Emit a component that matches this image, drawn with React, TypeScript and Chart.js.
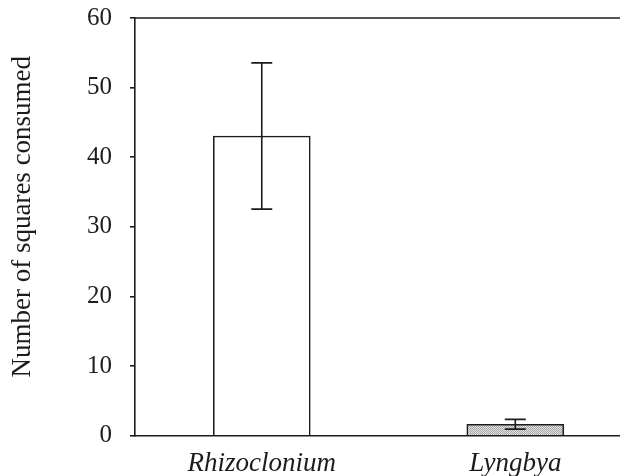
import React, { useEffect, useRef } from "react";
import { Chart, registerables } from "chart.js";

Chart.register(...registerables);

const categories = ["Rhizoclonium", "Lyngbya"];
const means = [43.05, 1.65];
const errors = [10.5, 0.7];
const yTicks = [0, 10, 20, 30, 40, 50, 60];
const yTitle = "Number of squares consumed";

const FONT = '"Liberation Serif", "Times New Roman", Times, serif';
const INK = "#1c1c1c";

function makeStipple(): CanvasPattern | string {
  const c = document.createElement("canvas");
  c.width = 2;
  c.height = 2;
  const g = c.getContext("2d");
  if (!g) return "#c4c4c4";
  g.fillStyle = "#e2e2e2";
  g.fillRect(0, 0, 2, 2);
  g.fillStyle = "#a6a6a6";
  g.fillRect(0, 0, 1, 1);
  g.fillRect(1, 1, 1, 1);
  const p = g.createPattern(c, "repeat");
  return p || "#c4c4c4";
}

const errorBarPlugin = {
  id: "errorBars",
  afterDatasetsDraw(chart: any) {
    const { ctx, scales } = chart;
    const xs = scales.x;
    const ys = scales.y;
    ctx.save();
    ctx.strokeStyle = INK;
    ctx.lineWidth = 1.6;
    means.forEach((m, i) => {
      const x = xs.getPixelForValue(i + 1);
      const yHi = ys.getPixelForValue(m + errors[i]);
      const yLo = ys.getPixelForValue(m - errors[i]);
      const half = 10.5;
      ctx.beginPath();
      ctx.moveTo(x, yLo);
      ctx.lineTo(x, yHi);
      ctx.moveTo(x - half, yHi);
      ctx.lineTo(x + half, yHi);
      ctx.moveTo(x - half, yLo);
      ctx.lineTo(x + half, yLo);
      ctx.stroke();
    });
    ctx.restore();
  },
};

const topLinePlugin = {
  id: "topLine",
  afterDraw(chart: any) {
    const { ctx, chartArea } = chart;
    ctx.save();
    ctx.strokeStyle = INK;
    ctx.lineWidth = 1.6;
    ctx.beginPath();
    ctx.moveTo(chartArea.left, chartArea.top);
    ctx.lineTo(chartArea.right, chartArea.top);
    ctx.stroke();
    ctx.restore();
  },
};

export default function App() {
  const ref = useRef<HTMLCanvasElement>(null);

  useEffect(() => {
    document.body.style.margin = "0";
    const canvas = ref.current;
    if (!canvas) return;
    const stipple = makeStipple();
    const chart = new Chart(canvas, {
      type: "bar",
      data: {
        datasets: [
          {
            data: means.map((m, i) => ({ x: i + 1, y: m })),
            backgroundColor: ["#ffffff", stipple as any],
            borderColor: INK,
            borderWidth: 1.6,
            borderSkipped: "bottom",
            barThickness: 97,
          },
        ],
      },
      options: {
        animation: false,
        responsive: false,
        maintainAspectRatio: false,
        layout: { padding: { top: 18, right: 0, left: 0, bottom: 0 } },
        plugins: {
          legend: { display: false },
          tooltip: { enabled: false },
        },
        scales: {
          x: {
            type: "linear",
            offset: false,
            bounds: "ticks",
            min: 0.5,
            max: 2.413,
            grid: { display: false },
            border: { display: true, color: INK, width: 1.6 },
            afterBuildTicks: (scale: any) => {
              scale.ticks = categories.map((_, i) => ({ value: i + 1 }));
            },
            afterFit: (scale: any) => {
              scale.height = 40.3;
              scale.paddingLeft = 0;
              scale.paddingRight = 0;
            },
            ticks: {
              autoSkip: false,
              maxRotation: 0,
              padding: 4,
              color: INK,
              font: { family: FONT, size: 27, style: "italic" },
              callback: (v: any) => categories[Number(v) - 1] ?? "",
            },
          },
          y: {
            min: 0,
            max: 60,
            afterBuildTicks: (scale: any) => {
              scale.ticks = yTicks.map((v) => ({ value: v }));
            },
            afterFit: (scale: any) => {
              scale.width = 135;
              scale.paddingTop = 0;
              scale.paddingBottom = 0;
            },
            grid: {
              display: true,
              drawOnChartArea: false,
              drawTicks: true,
              tickLength: 5,
              color: INK,
              lineWidth: 1.6,
            },
            border: { display: true, color: INK, width: 1.6 },
            ticks: {
              padding: 18,
              color: INK,
              font: { family: FONT, size: 25 },
            },
            title: {
              display: true,
              text: "\u00A0\u00A0\u00A0" + yTitle,
              color: INK,
              font: { family: FONT, size: 27 },
              padding: { top: 7, bottom: 0 },
            },
          },
        },
      },
      plugins: [errorBarPlugin, topLinePlugin],
    });
    return () => chart.destroy();
  }, []);

  return (
    <div style={{ width: 620, height: 476 }}>
      <canvas ref={ref} width={620} height={476} style={{ display: "block" }} />
    </div>
  );
}
